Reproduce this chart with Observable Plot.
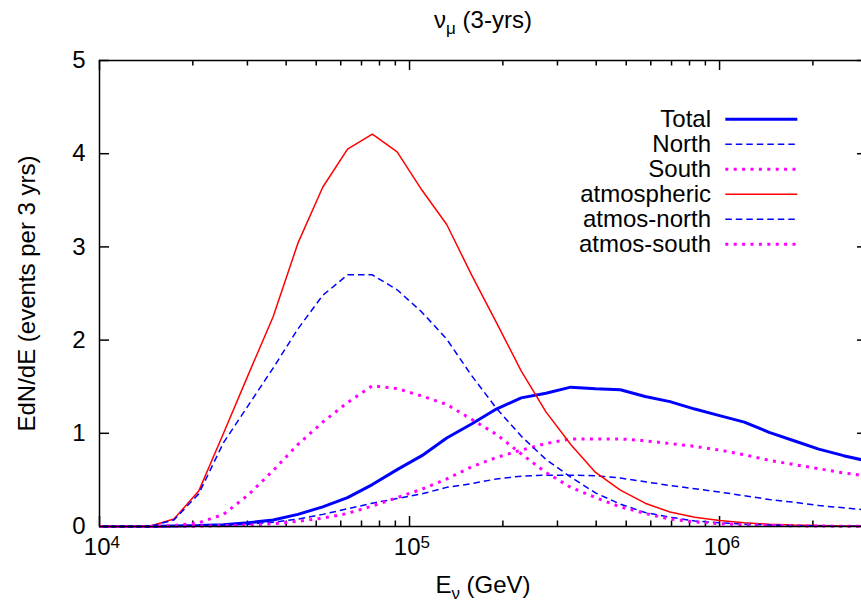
<!DOCTYPE html>
<html>
<head>
<meta charset="utf-8">
<script src="https://cdn.jsdelivr.net/npm/d3@7"></script>
<script src="https://cdn.jsdelivr.net/npm/@observablehq/plot@0.6"></script>
<style>
  html, body { margin: 0; padding: 0; background: white; overflow: hidden; }
  #chart svg { display: block; }
</style>
</head>
<body>
<div id="chart"></div>
<script>
// Energies (GeV), log-spaced bin points
const energy = [1.00e4, 1.202e4, 1.445e4, 1.738e4, 2.089e4, 2.512e4, 3.020e4, 3.631e4,
  4.365e4, 5.248e4, 6.310e4, 7.586e4, 9.120e4, 1.096e5, 1.318e5, 1.585e5, 1.905e5,
  2.291e5, 2.754e5, 3.311e5, 3.981e5, 4.786e5, 5.754e5, 6.918e5, 8.318e5, 1.000e6,
  1.202e6, 1.445e6, 1.738e6, 2.089e6, 2.512e6, 3.020e6];

const total = [0, 0, 0, 0.005, 0.01, 0.02, 0.04, 0.07, 0.13, 0.21, 0.31, 0.45, 0.61,
  0.76, 0.95, 1.10, 1.26, 1.38, 1.43, 1.495, 1.477, 1.467, 1.395, 1.34, 1.26, 1.19,
  1.12, 1.01, 0.92, 0.83, 0.76, 0.70];
const north = [0, 0, 0, 0.003, 0.007, 0.013, 0.025, 0.045, 0.08, 0.13, 0.19, 0.25, 0.30,
  0.35, 0.42, 0.46, 0.51, 0.54, 0.55, 0.55, 0.545, 0.52, 0.48, 0.44, 0.405, 0.37,
  0.33, 0.29, 0.26, 0.225, 0.20, 0.175];
const south = [0, 0, 0, 0.002, 0.004, 0.008, 0.015, 0.03, 0.055, 0.09, 0.14, 0.22, 0.31,
  0.40, 0.51, 0.64, 0.74, 0.82, 0.89, 0.94, 0.94, 0.94, 0.92, 0.89, 0.86, 0.82,
  0.77, 0.71, 0.665, 0.62, 0.575, 0.54];
const atmospheric = [0, 0, 0, 0.08, 0.38, 1.00, 1.63, 2.25, 3.04, 3.64, 4.05, 4.21, 4.02,
  3.61, 3.24, 2.70, 2.19, 1.67, 1.23, 0.88, 0.58, 0.39, 0.25, 0.155, 0.10, 0.065,
  0.04, 0.025, 0.015, 0.01, 0.006, 0.004];
const atmosNorth = [0, 0, 0, 0.07, 0.35, 0.90, 1.30, 1.70, 2.12, 2.48, 2.70, 2.70, 2.54,
  2.30, 2.01, 1.62, 1.27, 0.97, 0.72, 0.53, 0.36, 0.24, 0.15, 0.10, 0.06, 0.04,
  0.025, 0.015, 0.01, 0.006, 0.004, 0.003];
const atmosSouth = [0, 0, 0, 0.01, 0.04, 0.13, 0.34, 0.60, 0.88, 1.12, 1.33, 1.51, 1.48,
  1.40, 1.31, 1.15, 0.99, 0.78, 0.58, 0.42, 0.31, 0.21, 0.14, 0.08, 0.05, 0.03,
  0.02, 0.012, 0.008, 0.005, 0.003, 0.002];

const xMajorTicks = [1e4, 1e5, 1e6];
const xMinorTicks = [2e4, 3e4, 4e4, 5e4, 6e4, 7e4, 8e4, 9e4, 2e5, 3e5, 4e5, 5e5, 6e5, 7e5, 8e5, 9e5, 2e6, 3e6];
const xTickExponents = ["4", "5", "6"];
const yTicks = [0, 1, 2, 3, 4, 5];

const titleMain = "\u03bd", titleSub = "\u03bc", titleRest = " (3-yrs)";
const xLabelMain = "E", xLabelSub = "\u03bd", xLabelRest = " (GeV)";
const yLabel = "EdN/dE (events per 3 yrs)";

const seriesNames = ["Total", "North", "South", "atmospheric", "atmos-north", "atmos-south"];
const seriesValues = [total, north, south, atmospheric, atmosNorth, atmosSouth];
const seriesStyles = [
  {stroke: "#0000ff", strokeWidth: 3, strokeDasharray: null},
  {stroke: "#0000ff", strokeWidth: 1.5, strokeDasharray: "6.5,4"},
  {stroke: "#ff00ff", strokeWidth: 3, strokeDasharray: "3,5.4"},
  {stroke: "#ff0000", strokeWidth: 1.5, strokeDasharray: null},
  {stroke: "#0000ff", strokeWidth: 1.5, strokeDasharray: "6.5,4"},
  {stroke: "#ff00ff", strokeWidth: 3, strokeDasharray: "3,5.4"}
];

const W = 861, H = 605, ML = 99, MR = -6, MT = 60, MB = 79;
const frameW = W - MR - ML, frameH = H - MT - MB;
const FONT = "'Liberation Sans', Arial, Helvetica, sans-serif";

const lineMarks = seriesValues.map((vals, s) => {
  const data = energy.map((E, i) => ({E, v: vals[i]}));
  const st = seriesStyles[s];
  const o = {x: "E", y: "v", stroke: st.stroke, strokeWidth: st.strokeWidth, strokeLinejoin: "miter", strokeLinecap: "butt"};
  if (st.strokeDasharray) o.strokeDasharray = st.strokeDasharray;
  return Plot.line(data, o);
});

const plot = Plot.plot({
  width: W, height: H,
  marginLeft: ML, marginRight: MR, marginTop: MT, marginBottom: MB,
  x: {type: "log", domain: [1e4, 3e6], axis: null},
  y: {domain: [0, 5], axis: null},
  style: {fontFamily: FONT, fontSize: "24px", background: "white", color: "black"},
  marks: [
    // tick marks (inward, gnuplot style, mirrored)
    Plot.ruleX(xMajorTicks, {x: d => d, insetTop: frameH - 10, stroke: "black", strokeWidth: 1.5}),
    Plot.ruleX(xMajorTicks, {x: d => d, insetBottom: frameH - 10, stroke: "black", strokeWidth: 1.5}),
    Plot.ruleX(xMinorTicks, {x: d => d, insetTop: frameH - 5.5, stroke: "black", strokeWidth: 1.5}),
    Plot.ruleX(xMinorTicks, {x: d => d, insetBottom: frameH - 5.5, stroke: "black", strokeWidth: 1.5}),
    Plot.ruleY(yTicks, {y: d => d, insetRight: frameW - 10, stroke: "black", strokeWidth: 1.5}),
    Plot.ruleY(yTicks, {y: d => d, insetLeft: frameW - 10, stroke: "black", strokeWidth: 1.5}),
    // tick labels
    Plot.text(yTicks, {y: d => d, text: d => String(d), frameAnchor: "left", textAnchor: "end", dx: -14, fontSize: 24, fill: "black"}),
    Plot.text(xMajorTicks, {x: d => d, text: () => "10", frameAnchor: "bottom", textAnchor: "end", dx: 11, dy: 28.3, fontSize: 24, fill: "black"}),
    Plot.text(xMajorTicks, {x: d => d, text: (d, i) => xTickExponents[i], frameAnchor: "bottom", textAnchor: "start", dx: 11, dy: 21.5, fontSize: 17, fill: "black"}),
    // y label
    Plot.text([yLabel], {text: d => d, frameAnchor: "left", textAnchor: "middle", rotate: -90, dx: -72, fontSize: 24, fill: "black"}),
    ...lineMarks,
    Plot.frame({stroke: "black", strokeWidth: 1.5})
  ]
});

document.getElementById("chart").appendChild(plot);

const svg = d3.select(plot);
const cx = ML + frameW / 2;

// title
const t = svg.append("text").attr("x", cx).attr("y", 28).attr("text-anchor", "middle")
  .attr("font-family", FONT).attr("font-size", 24).attr("fill", "black");
t.append("tspan").text(titleMain);
t.append("tspan").attr("font-size", 17).attr("dy", 6).text(titleSub);
t.append("tspan").attr("dy", -6).text(titleRest);

// x label
const xl = svg.append("text").attr("x", cx).attr("y", 593).attr("text-anchor", "middle")
  .attr("font-family", FONT).attr("font-size", 24).attr("fill", "black");
xl.append("tspan").text(xLabelMain);
xl.append("tspan").attr("font-size", 17).attr("dy", 6).text(xLabelSub);
xl.append("tspan").attr("dy", -6).text(xLabelRest);

// legend
const lg = svg.append("g").attr("font-family", FONT).attr("font-size", 24);
seriesNames.forEach((name, i) => {
  const y = 119.3 + 25 * i;
  const st = seriesStyles[i];
  lg.append("text").attr("x", 711).attr("y", y + 7.8).attr("text-anchor", "end").attr("fill", "black").text(name);
  const ln = lg.append("line").attr("x1", 725.3).attr("x2", 797.3).attr("y1", y).attr("y2", y)
    .attr("stroke", st.stroke).attr("stroke-width", st.strokeWidth);
  if (st.strokeDasharray) ln.attr("stroke-dasharray", st.strokeDasharray);
});
</script>
</body>
</html>
